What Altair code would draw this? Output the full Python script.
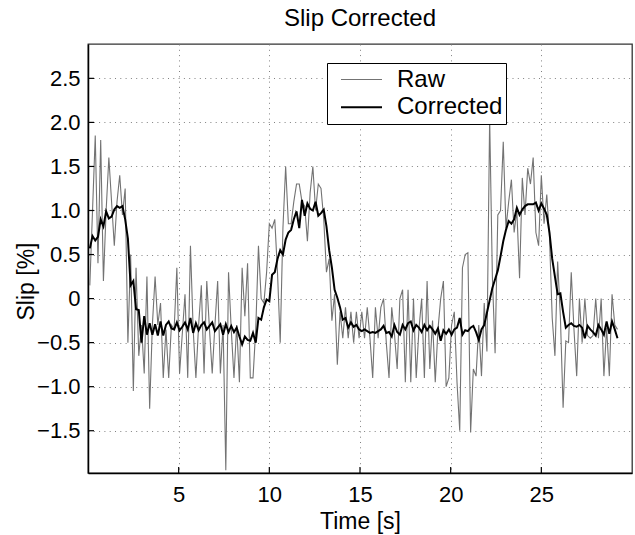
import altair as alt
import pandas as pd

# sampling of the recorded signals (seconds)
T0 = 0.1
DT = 0.15

raw = [
    0.15, 1.0, 1.85, 0.4, 1.8, 0.2, 1.0, 1.6, 1.1, 0.6,
    1.1, 1.4, 0.95, 1.25, -0.5, 0.5, -1.05, 0.35, -0.65, -0.3,
    -0.85, 0.25, -1.25, -0.3, 0.25, -0.3, -0.05, -0.9, -0.35, -0.9,
    -0.3, -0.35, 0.35, -0.85, -0.4, 0.05, -0.9, 0.6, -0.35, -0.9,
    -0.3, 0.15, -0.85, 0.2, -0.35, -0.85, -0.3, 0.2, -0.85, -0.3,
    -1.95, 0.3, -0.35, -0.9, -0.3, -0.95, 0.35, -0.2, 0.4, -0.9,
    -0.9, -0.35, 0.6, 0.0, -0.05, 0.3, 0.85, 0.8, 0.9, 0.3,
    -0.5, 0.8, 1.5, 0.85, 0.85, 1.1, 1.3, 1.3, 1.1, 1.05,
    0.65, 1.2, 1.5, 1.0, 1.3, 1.25, 0.9, 0.3, 0.45, -0.25,
    0.05, -0.75, -0.15, -0.45, -0.1, -0.45, -0.15, -0.5, -0.15, -0.45,
    -0.15, -0.45, -0.1, -0.45, -0.9, -0.1, -0.45, -0.1, 0.0, -0.5,
    -0.9, -0.1, -0.4, -0.8, 0.0, 0.1, -0.95, 0.1, -0.95, 0.0,
    -0.9, -0.35, 0.0, -0.9, 0.2, -0.8, -0.25, -0.95, -0.35, 0.0,
    0.2, -1.0, -0.9, -0.3, -0.15, -0.95, -1.5, 0.35, 0.5, 0.52,
    -1.52, -0.8, -0.88, -0.3, -0.88, -0.05, -0.6, 2.05, 0.25, -0.62,
    0.95, 1.0, 1.78, 0.8, 1.1, 1.35, 0.75, 1.0, 0.23, 1.37,
    0.95, 1.48, 1.3, 1.6, 0.75, 0.6, 1.4, 0.85, 1.18, 0.7,
    -0.22, -0.65, 0.42, -0.2, -1.24, -0.48, -0.5, 0.3, -0.35, -0.88,
    0.0, -0.5, 0.0, -0.42, -0.45, -0.42, 0.0, -0.45, 0.0, -0.88,
    -0.33, -0.88, 0.05, -0.3, -0.35,
]

corrected = [
    0.57, 0.71, 0.66, 0.7, 0.9, 0.82, 0.99, 0.91, 0.93, 1.01,
    1.05, 1.03, 1.05, 0.9, 0.68, 0.15, 0.2, -0.12, -0.13, -0.5,
    -0.2, -0.41, -0.28, -0.41, -0.29, -0.42, -0.26, -0.42, -0.3, -0.26,
    -0.34, -0.35, -0.27, -0.36, -0.32, -0.27, -0.35, -0.22, -0.39, -0.28,
    -0.36, -0.3, -0.27, -0.35, -0.31, -0.27, -0.37, -0.33, -0.29, -0.41,
    -0.29, -0.38, -0.31, -0.38, -0.33, -0.43, -0.52, -0.43, -0.47, -0.48,
    -0.39, -0.5, -0.22, -0.24, -0.1, -0.01, -0.03, 0.27, 0.3, 0.45,
    0.55, 0.5, 0.67, 0.75, 0.78, 0.9, 0.99, 0.8, 1.12, 0.94,
    1.08, 1.02, 1.0, 1.1, 0.94, 0.97, 1.01, 0.82, 0.55, 0.35,
    0.1, 0.01, -0.1, -0.24, -0.22, -0.33, -0.27, -0.32, -0.3, -0.35,
    -0.37, -0.35, -0.37, -0.39, -0.38, -0.39, -0.37, -0.35, -0.31, -0.39,
    -0.38, -0.43, -0.3, -0.38, -0.41, -0.3, -0.35, -0.28, -0.26, -0.36,
    -0.3, -0.33, -0.38, -0.3, -0.36, -0.31, -0.35, -0.4, -0.34, -0.48,
    -0.36, -0.4, -0.35, -0.41, -0.35, -0.33, -0.22, -0.41, -0.36, -0.37,
    -0.33, -0.31, -0.38, -0.47, -0.35, -0.3, -0.16, -0.02, 0.12, 0.22,
    0.32, 0.48, 0.65, 0.78, 0.88, 0.85, 0.9, 1.03, 0.95, 1.01,
    1.05, 1.07, 1.07, 1.07, 1.09, 1.0, 1.08, 1.02, 0.95, 0.75,
    0.45, 0.25, 0.05, 0.06, -0.15, -0.33, -0.3, -0.28, -0.31, -0.32,
    -0.3, -0.33, -0.45, -0.31, -0.35, -0.38, -0.42, -0.3, -0.35, -0.41,
    -0.26, -0.4, -0.26, -0.35, -0.45,
]

x_ticks = [5, 10, 15, 20, 25]
y_ticks = [-1.5, -1.0, -0.5, 0, 0.5, 1.0, 1.5, 2.0, 2.5]
series_names = ["Raw", "Corrected"]
series_colors = ["#737373", "#000000"]
series_widths = [1.1, 2]

t_raw = [round(T0 + DT * i, 2) for i in range(len(raw))]
t_cor = [round(T0 + DT * i, 2) for i in range(len(corrected))]
df_raw = pd.DataFrame({"t": t_raw, "v": raw, "series": "Raw"})
df_cor = pd.DataFrame({"t": t_cor, "v": corrected, "series": "Corrected"})
df_xt = pd.DataFrame({"t": x_ticks})
df_yt = pd.DataFrame({"v": y_ticks})

W, H = 544, 429
FONT = "Liberation Sans"

xscale = alt.Scale(domain=[0, 30], nice=False, zero=False)
yscale = alt.Scale(domain=[-1.98, 2.89], nice=False, zero=False)

xaxis = alt.Axis(
    values=x_ticks, title="Time [s]", grid=True, ticks=False,
    labelPadding=11, labelFontSize=22, titleFontSize=23,
    titleFontWeight="normal", titleBaseline="alphabetic", titleY=55,
    titlePadding=0,
)
yaxis = alt.Axis(
    values=y_ticks, title="Slip [%]", grid=True, ticks=False,
    labelPadding=8, labelFontSize=22, titleFontSize=23,
    titleFontWeight="normal", titleAngle=270, titleBaseline="middle",
    titleX=-62, titleY=237, titleAlign="center",
    labelExpr="datum.value == 0 ? '0' : format(datum.value, '.1f')",
)

legend = alt.Legend(
    orient="none", legendX=239, legendY=19, direction="vertical",
    fillColor="white", strokeColor="black", padding=3,
    symbolType="stroke", symbolSize=1681, clipHeight=27, rowPadding=0.7,
    labelFontSize=24, labelFont=FONT, labelColor="black",
    labelOffset=14, symbolOffset=10, labelLimit=400,
)

color = alt.Color(
    "series:N", title=None,
    scale=alt.Scale(domain=series_names, range=series_colors),
    legend=legend,
)
swidth = alt.StrokeWidth(
    "series:N", title=None,
    scale=alt.Scale(type="point", domain=series_names, range=series_widths, padding=0),
    legend=legend,
)

raw_line = alt.Chart(df_raw).mark_line(clip=True).encode(
    x=alt.X("t:Q", scale=xscale, axis=xaxis),
    y=alt.Y("v:Q", scale=yscale, axis=yaxis),
    color=color,
    strokeWidth=swidth,
)
cor_line = alt.Chart(df_cor).mark_line(clip=True).encode(
    x=alt.X("t:Q", scale=xscale, axis=xaxis),
    y=alt.Y("v:Q", scale=yscale, axis=yaxis),
    color=color,
    strokeWidth=swidth,
)
xtick_rules = alt.Chart(df_xt).mark_rule(color="black", strokeWidth=1.2).encode(
    x=alt.X("t:Q", scale=xscale, axis=xaxis),
    y=alt.value(H),
    y2=alt.value(H - 6),
)
ytick_rules = alt.Chart(df_yt).mark_rule(color="black", strokeWidth=1.2).encode(
    y=alt.Y("v:Q", scale=yscale, axis=yaxis),
    x=alt.value(0),
    x2=alt.value(6),
)

chart = (
    alt.layer(raw_line, cor_line, xtick_rules, ytick_rules)
    .properties(
        width=W, height=H,
        padding={"left": 88, "top": 44, "right": 3, "bottom": 62},
        autosize=alt.AutoSizeParams(type="none"),
        title=alt.TitleParams(
            "Slip Corrected", fontSize=24, fontWeight="normal", font=FONT,
            color="black", anchor="middle", frame="group",
            baseline="alphabetic", offset=17, dy=23,
        ),
        background="white",
    )
    .configure(font=FONT)
    .configure_view(stroke="#333333", strokeWidth=1.3)
    .configure_axis(
        labelFont=FONT, titleFont=FONT, labelColor="black", titleColor="black",
        domainColor="black", domainWidth=1.5,
        gridColor="#808080", gridDash=[1, 4.3], gridWidth=1, gridOpacity=1,
    )
)

chart.save("out.html", embed_options={"renderer": "svg", "actions": False})
